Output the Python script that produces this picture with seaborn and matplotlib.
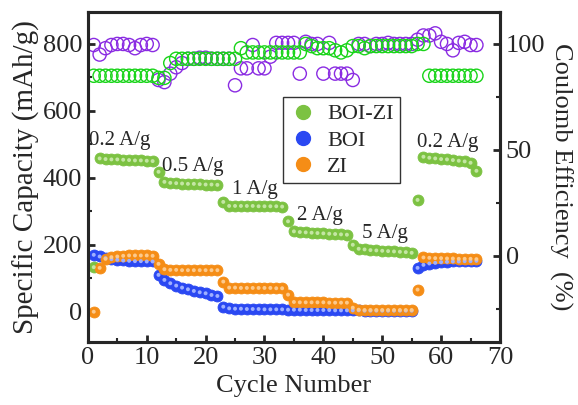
import numpy as np
import pandas as pd
import matplotlib
matplotlib.use("Agg")
import matplotlib.pyplot as plt
from matplotlib.lines import Line2D
from matplotlib.ticker import MultipleLocator
import seaborn as sns

# data
cycles = list(range(1, 67))

boi_zi_cap = [133, 458, 456, 455, 455, 454, 453, 452, 452, 451, 450,
              418, 388, 385, 384, 383, 382, 382, 381, 380, 380, 379,
              328, 316, 316, 316, 316, 316, 315, 315, 315, 315, 314,
              270, 240, 238, 237, 236, 235, 234, 233, 232, 231, 230,
              200, 188, 186, 184, 183, 182, 181, 180, 179, 178, 176,
              334, 463, 460, 458, 456, 455, 453, 451, 449, 445, 421]

boi_cap = [170, 165, 160, 157, 155, 153, 152, 151, 151, 150, 150,
           110, 95, 85, 78, 72, 67, 62, 58, 55, 50, 47,
           15, 10, 9, 9, 8, 8, 8, 7, 7, 7, 7,
           6, 6, 6, 5, 5, 5, 5, 5, 4, 4, 4,
           4, 4, 3, 3, 3, 3, 3, 3, 3, 3, 3,
           131, 140, 144, 146, 148, 149, 150, 150, 151, 151, 152]

zi_cap = [0, 131, 158, 163, 165, 167, 168, 168, 168, 168, 167,
          143, 127, 125, 125, 124, 124, 124, 124, 124, 124, 124,
          90, 72, 72, 71, 71, 71, 71, 71, 71, 70, 70,
          51, 29, 28, 28, 28, 28, 28, 27, 27, 27, 27,
          12, 6, 5, 5, 5, 5, 5, 5, 5, 5, 5,
          66, 162, 161, 160, 160, 159, 159, 158, 158, 158, 157]

boi_zi_ce = [85, 85, 85, 85, 85, 85, 85, 85, 85, 85, 85,
             84, 84, 91, 93, 93, 93, 93, 93, 93, 93, 93,
             93, 93, 93, 98, 96, 96, 96, 96, 96, 96, 96,
             96, 96, 96, 100, 99, 98, 98, 98, 97, 96, 97,
             99, 99, 98, 99, 99, 99, 99, 99, 99, 99, 99,
             100, 100, 85, 85, 85, 85, 85, 85, 85, 85, 85]

boi_ce = [99.5, 95, 98, 99.5, 100, 100, 99.5, 98, 99.5, 100, 99.5,
          83, 82, 86, 89, 91, 93, 93, 93.5, 93.5, 93, 93,
          93, 93, 80.5, 88.5, 88.5, 99.5, 88.5, 88.5, 94, 100.5, 100.5,
          100.5, 100.5, 86, 101, 100, 100, 86, 100.5, 86, 86, 86,
          83, 100, 100, 99, 100, 100, 100.5, 100, 100, 100, 100,
          102, 104, 104, 105, 101, 100, 97, 100.5, 101, 99.5, 99.5]

rate_labels = ["0.2 A/g", "0.5 A/g", "1 A/g", "2 A/g", "5 A/g", "0.2 A/g"]
rate_pos = [(0.2, 513), (12.6, 433), (24.5, 364), (35.5, 287), (46.5, 233), (55.9, 507)]

series = ["BOI-ZI", "BOI", "ZI"]
fill_colors = {"BOI-ZI": "#7cc242", "BOI": "#2a48f2", "ZI": "#f58d16"}
shine_colors = {"BOI-ZI": "#c4e6a4", "BOI": "#9fb0ff", "ZI": "#fcc98c"}
ce_green = "#19d419"
ce_purple = "#8a2be2"

cap_df = pd.DataFrame({
    "cycle": cycles * 3,
    "capacity": boi_zi_cap + boi_cap + zi_cap,
    "sample": ["BOI-ZI"] * 66 + ["BOI"] * 66 + ["ZI"] * 66,
})

sns.set_style("ticks")
plt.rcParams["font.family"] = ["Liberation Serif", "DejaVu Serif"]

fig = plt.figure(figsize=(5.78, 4.05), dpi=100)
ax = fig.add_axes([0.152, 0.156, 0.713, 0.814])
ax2 = ax.twinx()

# capacity: glossy filled balls
for name in series:
    sub = cap_df[cap_df["sample"] == name]
    sns.scatterplot(data=sub, x="cycle", y="capacity", ax=ax, s=62,
                    color=fill_colors[name], edgecolor=fill_colors[name],
                    linewidth=0.6, zorder=3, legend=False)
    sns.scatterplot(data=sub, x="cycle", y="capacity", ax=ax, s=8,
                    color=shine_colors[name], edgecolor="none",
                    linewidth=0, zorder=4, legend=False)

# coulomb efficiency: open circles
sns.scatterplot(x=cycles, y=boi_ce, ax=ax2, s=90, facecolor="none",
                edgecolor=ce_purple, linewidth=1.0, legend=False)
sns.scatterplot(x=cycles, y=boi_zi_ce, ax=ax2, s=90, facecolor="none",
                edgecolor=ce_green, linewidth=1.0, legend=False)

for lab, (x, y) in zip(rate_labels, rate_pos):
    ax.text(x, y, lab, ha="left", va="center", fontsize=15, zorder=6)

ax.set_xlim(0, 70)
ax.set_ylim(-90, 895)
ax2.set_ylim(-40.5, 115)
ax.xaxis.set_major_locator(MultipleLocator(10))
ax.xaxis.set_minor_locator(MultipleLocator(5))
ax.yaxis.set_major_locator(MultipleLocator(200))
ax.yaxis.set_minor_locator(MultipleLocator(100))
ax2.yaxis.set_major_locator(MultipleLocator(50))
ax2.yaxis.set_minor_locator(MultipleLocator(25))

ax.set_xlabel("Cycle Number", fontsize=19, labelpad=4)
ax.set_ylabel("Specific Capacity (mAh/g)", fontsize=21, labelpad=2)
ax2.set_ylabel("Coulomb Efficiency  (%)", fontsize=19, rotation=270, labelpad=20)

for a in (ax, ax2):
    for sp in a.spines.values():
        sp.set_linewidth(2.2)
        sp.set_visible(True)
    a.tick_params(which="major", direction="in", length=5, width=2, labelsize=19, pad=4)
    a.tick_params(which="minor", direction="in", length=3, width=1.5)
ax.tick_params(axis="y", which="both", right=False)
ax2.tick_params(axis="y", which="both", left=False)

handles = [Line2D([], [], marker="o", linestyle="none", markersize=10,
                  markerfacecolor=fill_colors[n], markeredgecolor=fill_colors[n])
           for n in series]
leg = ax2.legend(handles, series, loc="upper left", bbox_to_anchor=(0.473, 0.742),
                 fontsize=16, frameon=True, fancybox=False, edgecolor="black",
                 handletextpad=0.5, borderpad=0.3, labelspacing=0.25,
                 handlelength=1.2, borderaxespad=0)
leg.get_frame().set_linewidth(1.0)

fig.savefig("out.png", dpi=100)
